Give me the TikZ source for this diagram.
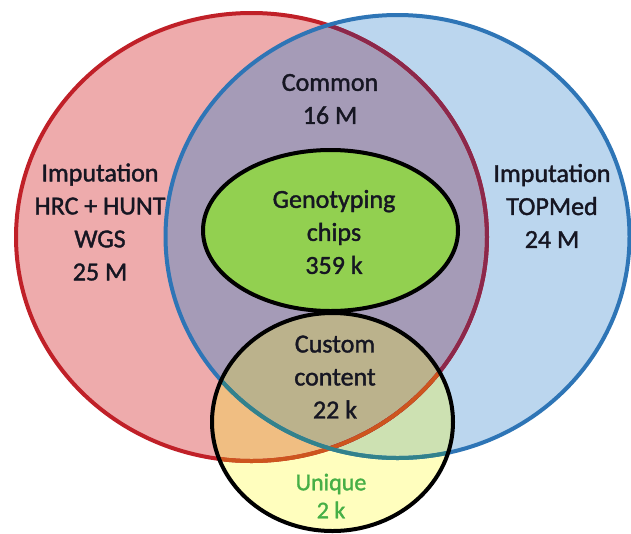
\documentclass[tikz,border=0pt]{standalone}
\usepackage{fontspec}
\setmainfont{Carlito}[FakeBold=1.4]
\definecolor{pinkfill}{RGB}{238,171,172}
\definecolor{bluefill}{RGB}{187,214,238}
\definecolor{purplefill}{RGB}{165,155,183}
\definecolor{greenfill}{RGB}{146,208,80}
\definecolor{yellowfill}{RGB}{255,254,190}
\definecolor{orangefill}{RGB}{240,190,130}
\definecolor{lgreenfill}{RGB}{205,225,178}
\definecolor{khakifill}{RGB}{187,178,140}
\definecolor{redline}{RGB}{192,32,40}
\definecolor{blueline}{RGB}{46,117,182}
\definecolor{maroonline}{RGB}{140,40,75}
\definecolor{orangeline}{RGB}{205,85,30}
\definecolor{tealline}{RGB}{50,130,140}
\definecolor{txt}{RGB}{22,22,34}
\definecolor{uniquegreen}{RGB}{70,175,70}
\tikzset{
  lbl/.style={align=center, text=txt, font=\fontsize{26}{33}\selectfont, inner sep=0pt},
  ring/.style={line width=4pt},
}
\def\redE{(251.5,237) ellipse [x radius=235.5, y radius=224]}
\def\blueE{(397.5,236.5) ellipse [x radius=232, y radius=221.5]}
\def\greenE{(330.5,230.5) ellipse [x radius=127.5, y radius=80.5]}
\def\yellowE{(332.5,422) ellipse [x radius=120.5, y radius=109]}
\begin{document}
\begin{tikzpicture}[x=1pt,y=-1pt]
\useasboundingbox (0,0) rectangle (631,533);
\fill[white] (0,0) rectangle (631,533);
% base fills
\fill[pinkfill] \redE;
\fill[bluefill] \blueE;
\begin{scope}
  \clip \redE;
  \fill[purplefill] \blueE;
\end{scope}
% yellow circle fills
\fill[yellowfill] \yellowE;
\begin{scope}
  \clip \yellowE;
  \fill[orangefill] \redE;
  \fill[lgreenfill] \blueE;
  \clip \redE;
  \fill[khakifill] \blueE;
\end{scope}
% red and blue outlines
\draw[ring, redline] \redE;
\begin{scope}
  \clip \blueE;
  \draw[ring, maroonline] \redE;
\end{scope}
\draw[ring, blueline] \blueE;
\begin{scope}
  \clip \yellowE;
  \draw[ring, orangeline] \redE;
  \draw[ring, tealline] \blueE;
\end{scope}
% inner shapes
\draw[ring, black] \yellowE;
\draw[ring, black, fill=greenfill] \greenE;
% labels
\node[lbl] (left) at (100,222) {Imputation\\HRC + HUNT\\WGS\\25 M};
\node[lbl] (right) at (552,206) {Imputation\\TOPMed\\24 M};
\node[lbl] (common) at (330,99) {Common\\16 M};
\node[lbl] (geno) at (334,232) {Genotyping\\chips\\359 k};
\node[lbl] (custom) at (335,377) {Custom\\content\\22 k};
\node[lbl, text=uniquegreen, font=\fontsize{24}{28}\selectfont] (unique) at (331,496) {Unique\\2 k};
\end{tikzpicture}
\end{document}
